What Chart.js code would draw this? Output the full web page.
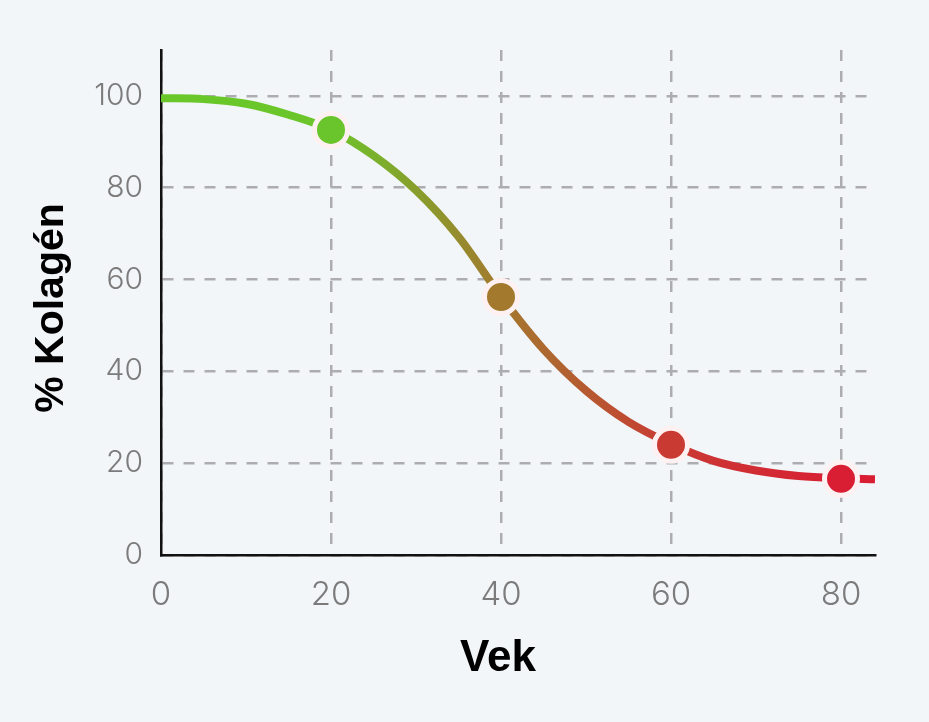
<!DOCTYPE html>
<html>
<head>
<meta charset="utf-8">
<script src="https://cdn.jsdelivr.net/npm/chart.js@4.4.1/dist/chart.umd.min.js"></script>
<style>
  html, body { margin: 0; padding: 0; background: #f3f6f9; }
  #wrap { width: 929px; height: 722px; }
</style>
</head>
<body>
<div id="wrap"><canvas id="chart"></canvas></div>
<script>
// curve (age -> % collagen)
const curveAges = [0, 5, 10, 15, 20, 25, 30, 35, 40, 45, 50, 55, 60, 65, 70, 75, 80, 84];
const curveValues = [99.5, 99.3, 98.3, 95.9, 92.6, 87.0, 79.4, 69.3, 56.3, 44.8, 35.8, 29.0, 24.2, 20.5, 18.4, 17.2, 16.7, 16.5];

// the marked points
const markerAges = [20, 40, 60, 80];
const markerValues = [92.6, 56.2, 24, 16.6];
const markerColors = ['#69c52b', '#a3792e', '#c93a33', '#d91e34'];

const xTicks = [0, 20, 40, 60, 80];
const yTicks = [0, 20, 40, 60, 80, 100];
const xTitle = 'Vek';
const yTitle = '% Kolagén';

function lineGradient(c) {
  const { ctx, chartArea, scales } = c.chart;
  if (!chartArea) return '#6ac72a';
  const x0 = scales.x.getPixelForValue(0);
  const x1 = scales.x.getPixelForValue(84);
  const g = ctx.createLinearGradient(x0, 0, x1, 0);
  g.addColorStop(0, '#6ac72a');
  g.addColorStop(0.12, '#6ac72a');
  g.addColorStop(20 / 84, '#6cc42b');
  g.addColorStop(40 / 84, '#a3792e');
  g.addColorStop(60 / 84, '#c93a33');
  g.addColorStop(80 / 84, '#d91e34');
  g.addColorStop(1, '#d91e34');
  return g;
}

// axis titles drawn by hand so they sit where the reference has them
const axisTitles = {
  id: 'axisTitles',
  afterDraw(chart) {
    const ctx = chart.ctx;
    ctx.save();
    ctx.fillStyle = '#000';
    ctx.textAlign = 'center';
    ctx.textBaseline = 'middle';
    ctx.font = 'bold 44px "Liberation Sans", Arial, sans-serif';
    ctx.fillText(xTitle, 498, 659);
    ctx.translate(52, 308);
    ctx.rotate(-Math.PI / 2);
    ctx.font = 'bold 41px "Liberation Sans", Arial, sans-serif';
    ctx.fillText(yTitle, 0, 0);
    ctx.restore();
  }
};

const gridStyle = { drawTicks: false, color: '#adadb1', lineWidth: 2.5 };
const borderStyle = { display: true, color: '#111', width: 2.5, dash: [11, 10] };

new Chart(document.getElementById('chart'), {
  type: 'line',
  data: {
    datasets: [
      {
        data: curveAges.map((a, i) => ({ x: a, y: curveValues[i] })),
        borderColor: lineGradient,
        borderWidth: 8,
        cubicInterpolationMode: 'monotone',
        pointRadius: 0,
        fill: false,
        order: 2
      },
      {
        data: markerAges.map((a, i) => ({ x: a, y: markerValues[i] })),
        showLine: false,
        pointRadius: 16.5,
        pointBorderWidth: 5,
        pointBackgroundColor: markerColors,
        pointBorderColor: '#fff1f1',
        order: 1
      }
    ]
  },
  options: {
    responsive: true,
    maintainAspectRatio: false,
    animation: false,
    layout: { padding: { left: 0, top: 50, right: 54, bottom: 0 } },
    plugins: { legend: { display: false }, tooltip: { enabled: false } },
    scales: {
      x: {
        type: 'linear',
        min: 0,
        max: 84,
        afterFit: (s) => { s.height = 167; },
        afterBuildTicks: (s) => { s.ticks = xTicks.map(v => ({ value: v })); },
        border: borderStyle,
        grid: gridStyle,
        ticks: { color: '#7b7b7b', font: { family: 'Inter', size: 33, weight: 300 }, padding: 20, maxRotation: 0 }
      },
      y: {
        type: 'linear',
        min: 0,
        max: 110,
        afterFit: (s) => { s.width = 161; },
        afterBuildTicks: (s) => { s.ticks = yTicks.map(v => ({ value: v })); },
        border: borderStyle,
        grid: gridStyle,
        ticks: { color: '#7b7b7b', font: { family: 'Inter', size: 30, weight: 300 }, padding: 18 }
      }
    }
  },
  plugins: [axisTitles]
});
</script>
</body>
</html>
